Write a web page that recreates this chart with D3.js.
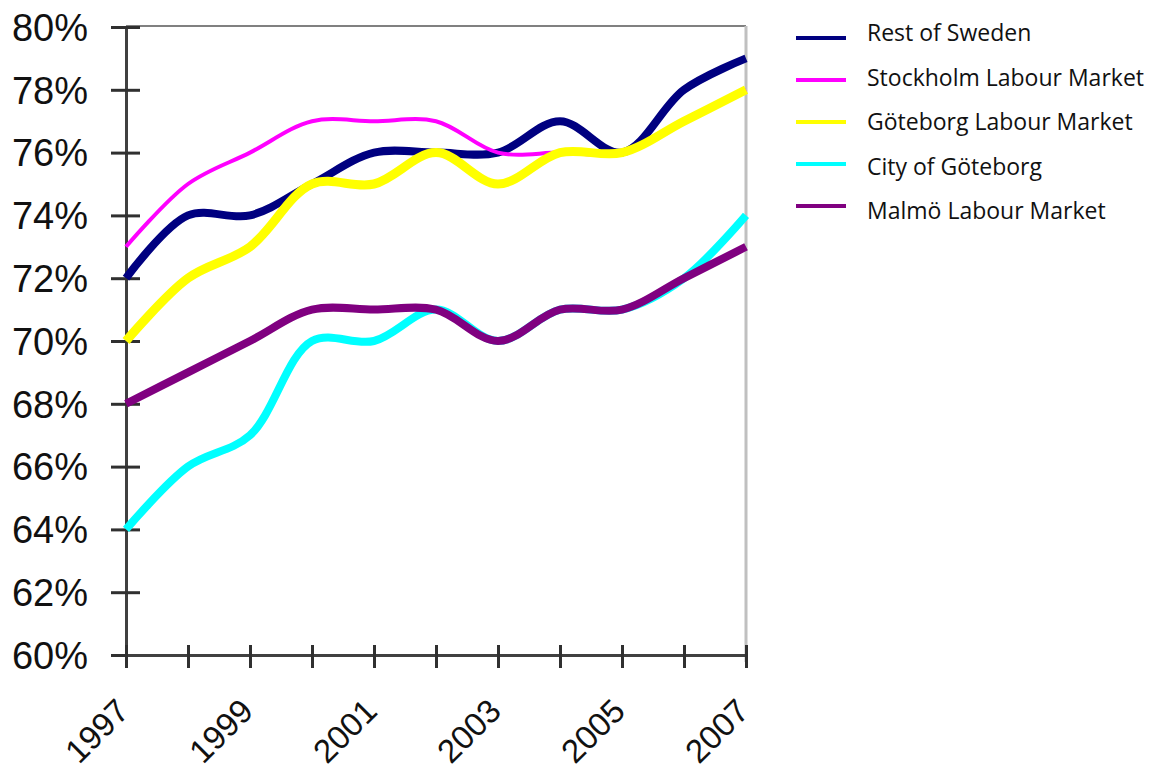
<!DOCTYPE html>
<html>
<head>
<meta charset="utf-8">
<script src="https://cdn.jsdelivr.net/npm/d3@7"></script>
<style>
  html, body { margin: 0; padding: 0; background: #fff; }
  svg { display: block; }
</style>
</head>
<body>
<svg id="chart" width="1152" height="776"></svg>
<script>
// Employment rate by labour market area, 1997–2007 (percent)
const years = [1997, 1998, 1999, 2000, 2001, 2002, 2003, 2004, 2005, 2006, 2007];
const seriesNames = ["Rest of Sweden", "Stockholm Labour Market", "Göteborg Labour Market", "City of Göteborg", "Malmö Labour Market"];
const restOfSweden = [72, 74, 74, 75, 76, 76, 76, 77, 76, 78, 79];
const stockholm    = [73, 75, 76, 77, 77, 77, 76, 76, 76, 77, 78];
const goteborgLM   = [70, 72, 73, 75, 75, 76, 75, 76, 76, 77, 78];
const cityGoteborg = [64, 66, 67, 70, 70, 71, 70, 71, 71, 72, 74];
const malmo        = [68, 69, 70, 71, 71, 71, 70, 71, 71, 72, 73];
const yTicks = [60, 62, 64, 66, 68, 70, 72, 74, 76, 78, 80];
const xLabelYears = [1997, 1999, 2001, 2003, 2005, 2007];

const colors = ["#000080", "#ff00ff", "#ffff00", "#00ffff", "#800080"];
const widths = [8, 4, 9, 8, 8];
const values = [restOfSweden, stockholm, goteborgLM, cityGoteborg, malmo];

const svg = d3.select("#chart");
const x = d3.scaleLinear().domain([1997, 2007]).range([126, 746]);
const y = d3.scaleLinear().domain([60, 80]).range([655, 27]);

// frame: top and right edges
svg.append("line").attr("x1", 126).attr("x2", 746).attr("y1", 26).attr("y2", 26)
  .attr("stroke", "#808080").attr("stroke-width", 2);
svg.append("line").attr("x1", 746).attr("x2", 746).attr("y1", 26).attr("y2", 662)
  .attr("stroke", "#c0c0c0").attr("stroke-width", 3);

// y axis
const yAxis = d3.axisLeft(y).tickValues(yTicks).tickSize(0).tickFormat(d => d + "%").tickPadding(38);
const gy = svg.append("g").attr("transform", "translate(126,0)").call(yAxis);
gy.select(".domain").attr("stroke", "#404040").attr("stroke-width", 3);
gy.selectAll(".tick text").attr("font-family", "Liberation Sans, Arial, sans-serif")
  .attr("font-size", 38).attr("fill", "#111").attr("dy", "0.35em");
gy.selectAll(".tick").append("line").attr("x1", -15).attr("x2", 14)
  .attr("stroke", "#303030").attr("stroke-width", 3);

// x axis
const xAxis = d3.axisBottom(x).tickValues(years).tickSize(0).tickFormat("");
const gx = svg.append("g").attr("transform", "translate(0,655)").call(xAxis);
gx.select(".domain").attr("stroke", "#404040").attr("stroke-width", 3);
gx.selectAll(".tick").append("line").attr("y1", -10).attr("y2", 13)
  .attr("stroke", "#303030").attr("stroke-width", 3);

svg.append("g").selectAll("text").data(xLabelYears).join("text")
  .attr("transform", d => `translate(${x(d) + 5},713) rotate(-45)`)
  .attr("text-anchor", "end")
  .attr("font-family", "Liberation Sans, Arial, sans-serif")
  .attr("font-size", 33).attr("fill", "#111")
  .text(d => d);

// series lines
const line = d3.line().x((d, i) => x(years[i])).y(d => y(d)).curve(d3.curveCatmullRom.alpha(0.5));
svg.append("g").selectAll("path").data(values).join("path")
  .attr("d", d => line(d))
  .attr("fill", "none")
  .attr("stroke", (d, i) => colors[i])
  .attr("stroke-width", (d, i) => widths[i])
  .attr("stroke-linejoin", "round");

// legend
const legend = svg.append("g").selectAll("g").data(seriesNames).join("g");
legend.append("line").attr("x1", 796).attr("x2", 846)
  .attr("y1", (d, i) => 38 + i * 42).attr("y2", (d, i) => 38 + i * 42)
  .attr("stroke", (d, i) => colors[i]).attr("stroke-width", 4);
legend.append("text").attr("x", 867).attr("y", (d, i) => 33 + i * 44.6)
  .attr("dy", "0.35em")
  .attr("font-family", "Open Sans, Lato, sans-serif").attr("font-size", 23).attr("fill", "#111")
  .text(d => d);
</script>
</body>
</html>
